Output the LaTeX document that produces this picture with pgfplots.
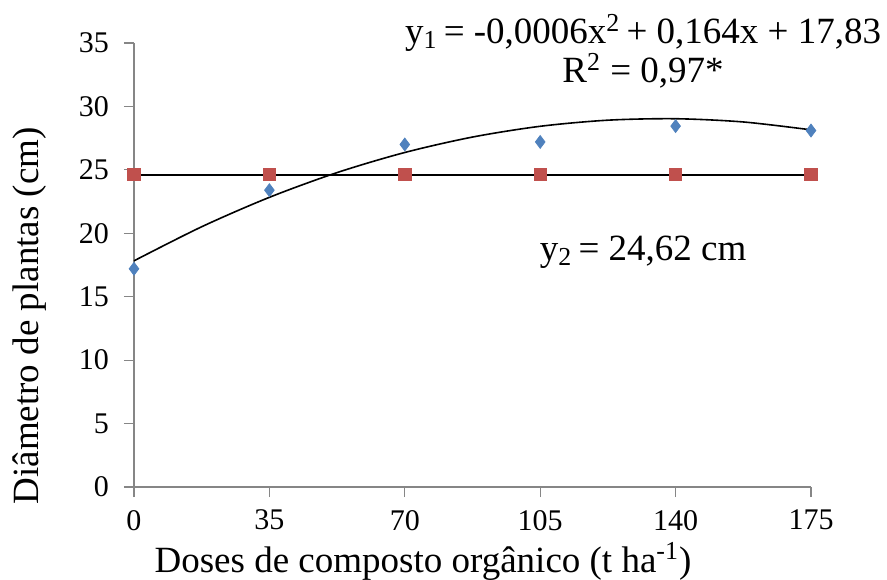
\documentclass[border=0pt]{standalone}
\usepackage{pgfplots}
\pgfplotsset{compat=1.18}
\usepackage{fontspec}
\setmainfont{Liberation Serif}

\definecolor{serieblue}{HTML}{4F81BD}
\definecolor{seriered}{HTML}{C0504D}
\definecolor{axisgray}{HTML}{868686}

\begin{document}
\begin{tikzpicture}
\path[use as bounding box] (-67pt,-46pt) rectangle (376.5pt,243.5pt);
\begin{axis}[
  scale only axis,
  width=338.5pt, height=222pt,
  xmin=0, xmax=175, ymin=0, ymax=35,
  enlargelimits=false,
  clip=false,
  axis x line=bottom, axis y line=left,
  axis line style={-, axisgray, line width=0.6pt},
  xtick={0,35,70,105,140,175},
  ytick={0,5,10,15,20,25,30,35},
  tick align=outside,
  major tick length=5pt,
  tick style={axisgray, line width=0.6pt},
  /pgf/number format/assume math mode=true,
  ticklabel style={font=\fontsize{15}{17}\selectfont},
  yticklabel style={xshift=-4pt},
  xticklabel style={yshift=-3pt},
]
% observed means, treatment 1
\addplot[only marks, mark=diamond*, mark size=3.2pt, color=serieblue]
  coordinates {(0,17.2) (35,23.4) (70,27.0) (105,27.2) (140,28.45) (175,28.1)};
% fitted quadratic y1 = -0.0006x^2 + 0.164x + 17.83
\addplot[smooth, black, line width=0.8pt]
  coordinates {(0,17.83) (17.5,20.516) (35,22.835) (52.5,24.786) (70,26.37)
               (87.5,27.586) (105,28.435) (122.5,28.916) (140,29.03)
               (157.5,28.776) (175,28.155)};
% observed means, treatment 2 and its mean line
\addplot[black, line width=0.9pt, mark=square*, mark size=2.9pt,
  mark options={color=seriered}]
  coordinates {(0,24.62) (35,24.62) (70,24.62) (105,24.62) (140,24.62) (175,24.62)};

\node[font=\fontsize{18.5}{20}\selectfont] at (axis cs:131.6,35.8)
  {y\textsubscript{1}\,= -0,0006x\textsuperscript{2}\,+ 0,164x + 17,83};
\node[font=\fontsize{18.5}{20}\selectfont] at (axis cs:131.6,32.8)
  {R\textsuperscript{2} = 0,97*};
\node[font=\fontsize{18.5}{20}\selectfont] at (axis cs:131.6,18.5)
  {y\textsubscript{2}\,= 24,62 cm};

\node[font=\fontsize{18.5}{20}\selectfont, rotate=90, inner sep=0pt] at (axis cs:-26.9,13.5)
  {Diâmetro de plantas (cm)};
\node[font=\fontsize{18.5}{20}\selectfont, inner sep=0pt] at (axis cs:74.7,-5.85)
  {Doses de composto orgânico (t ha\textsuperscript{-1})};
\end{axis}
\end{tikzpicture}
\end{document}
